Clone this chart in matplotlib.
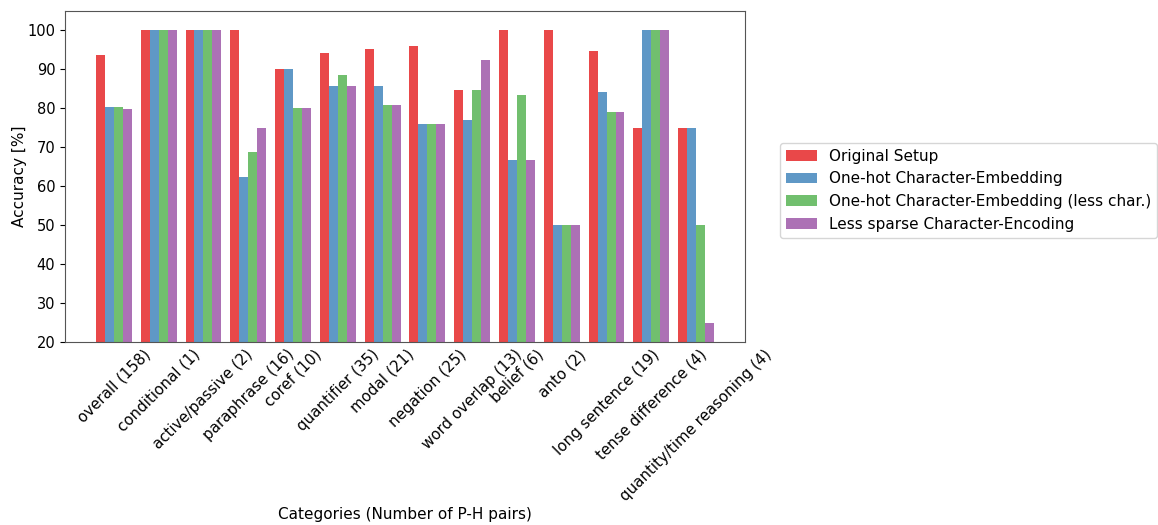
import numpy as np
import matplotlib
matplotlib.use('Agg')
import matplotlib.pyplot as plt

categories = ['overall (158)', 'conditional (1)', 'active/passive (2)', 'paraphrase (16)',
              'coref (10)', 'quantifier (35)', 'modal (21)', 'negation (25)',
              'word overlap (13)', 'belief (6)', 'anto (2)', 'long sentence (19)',
              'tense difference (4)', 'quantity/time reasoning (4)']
series = ['Original Setup', 'One-hot Character-Embedding',
          'One-hot Character-Embedding (less char.)', 'Less sparse Character-Encoding']
original = [93.67, 100, 100, 100, 90, 94.29, 95.24, 96, 84.62, 100, 100, 94.74, 75, 75]
onehot = [80.38, 100, 100, 62.5, 90, 85.71, 85.71, 76, 76.92, 66.67, 50, 84.21, 100, 75]
onehot_less = [80.38, 100, 100, 68.75, 80, 88.57, 80.95, 76, 84.62, 83.33, 50, 78.95, 100, 50]
less_sparse = [79.75, 100, 100, 75, 80, 85.71, 80.95, 76, 92.31, 66.67, 50, 78.95, 100, 25]
colors = ['#e41a1c', '#377eb8', '#4daf4a', '#984ea3']

fig = plt.figure(figsize=(11.58, 5.25), dpi=100)
ax = fig.add_axes([65 / 1158, 1 - 342 / 525, 680 / 1158, 331 / 525])

x = np.arange(len(categories))
width = 0.2
for k, vals in enumerate([original, onehot, onehot_less, less_sparse]):
    ax.bar(x + (k - 1.5) * width, vals, width, color=colors[k], alpha=0.8, label=series[k])

ax.set_ylim(20, 105)
ax.set_yticks(range(20, 101, 10))
ax.set_xticks(x)
ax.set_xticklabels(categories, rotation=45, fontsize=10.8)
ax.tick_params(axis='y', labelsize=10.5)
ax.tick_params(axis='x', length=0)
ax.set_ylabel('Accuracy [%]', fontsize=11, labelpad=0)
ax.set_xlabel('Categories (Number of P-H pairs)', fontsize=11)
ax.xaxis.set_label_coords(0.5, -0.5)
for s in ax.spines.values():
    s.set_color('#555555')

ax.legend(loc='center left', bbox_to_anchor=(1.04, 0.459), fontsize=11)

fig.savefig('out.png', dpi=100)
